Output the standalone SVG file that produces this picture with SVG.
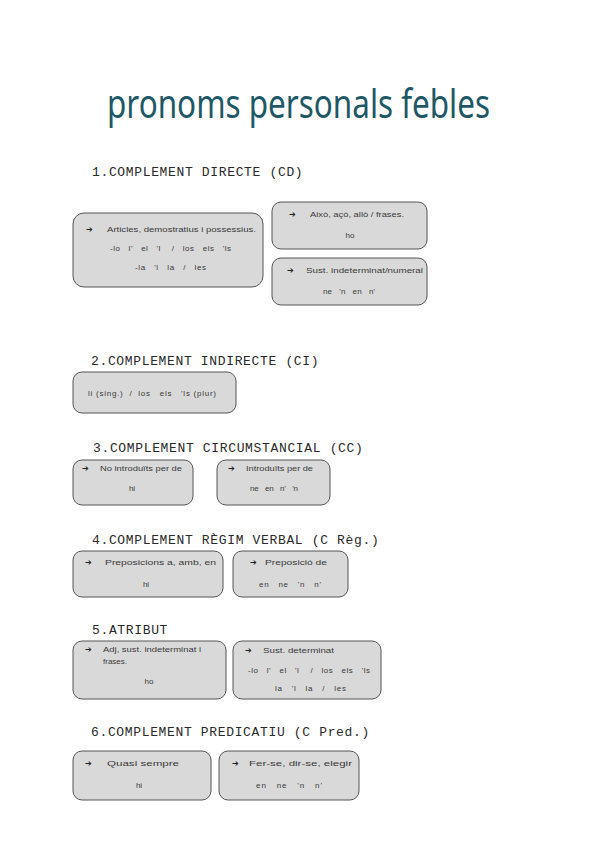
<svg xmlns="http://www.w3.org/2000/svg" width="600" height="848" viewBox="0 0 600 848" xml:space="preserve">
<style>
.title{font-family:"Noto Sans","DejaVu Sans",sans-serif;font-weight:400;font-size:40px;fill:#1e5866}
.h{font-family:"Liberation Mono","DejaVu Sans Mono",monospace;font-size:13px;fill:#2a2a2a;letter-spacing:0.65px}
.box{fill:#d9d9d9;stroke:#555;stroke-width:1}
.t{font-family:"Liberation Sans","Noto Sans",sans-serif;font-size:8px;fill:#3a3a3a;white-space:pre}
.c{text-anchor:middle}
.a{font-family:"DejaVu Sans",sans-serif;font-size:8px;fill:#222}
</style>
<rect width="600" height="848" fill="#fff"/>
<text class="title" x="107" y="118" textLength="383" lengthAdjust="spacingAndGlyphs">pronoms personals febles</text>

<text class="h" x="92" y="176">1.COMPLEMENT DIRECTE (CD)</text>
<text class="h" x="91" y="365">2.COMPLEMENT INDIRECTE (CI)</text>
<text class="h" x="93" y="452">3.COMPLEMENT CIRCUMSTANCIAL (CC)</text>
<text class="h" x="92" y="544">4.COMPLEMENT RÈGIM VERBAL (C Règ.)</text>
<text class="h" x="92" y="634">5.ATRIBUT</text>
<text class="h" x="91" y="736">6.COMPLEMENT PREDICATIU (C Pred.)</text>

<g id="cd1">
<rect class="box" x="73" y="213" width="190" height="74" rx="11"/>
<text class="a" x="86" y="232">➔</text>
<text class="t" x="107" y="232" textLength="149" lengthAdjust="spacingAndGlyphs">Articles, demostratius i possessius.</text>
<text class="t" x="110" y="251" textLength="121" lengthAdjust="spacing">-lo   l'   el   'l    /   los   els   'ls</text>
<text class="t" x="135" y="270" textLength="71" lengthAdjust="spacing">-la   'l   la   /   les</text>
</g>
<g id="cd2">
<rect class="box" x="272" y="202" width="155" height="47" rx="9"/>
<text class="a" x="289" y="217">➔</text>
<text class="t" x="310" y="217" textLength="94" lengthAdjust="spacingAndGlyphs">Això, açò, allò / frases.</text>
<text class="t c" x="350" y="238">ho</text>
</g>
<g id="cd3">
<rect class="box" x="272" y="258" width="155" height="47" rx="9"/>
<text class="a" x="287" y="273">➔</text>
<text class="t" x="323" y="294" textLength="52" lengthAdjust="spacing">ne   'n   en   n'</text>
<text class="t" x="306" y="273" textLength="117" lengthAdjust="spacingAndGlyphs">Sust. indeterminat/numeral</text>
</g>

<g id="ci1">
<rect class="box" x="73" y="372" width="163" height="41" rx="9"/>
<text class="t" x="88" y="396" textLength="128" lengthAdjust="spacing">li (sing.)  /  los   els   'ls (plur)</text>
</g>

<g id="cc1">
<rect class="box" x="73" y="460" width="120" height="45" rx="9"/>
<text class="a" x="82" y="471">➔</text>
<text class="t" x="100" y="471" textLength="82" lengthAdjust="spacingAndGlyphs">No introduïts per de</text>
<text class="t c" x="132" y="491">hi</text>
</g>
<g id="cc2">
<rect class="box" x="217" y="460" width="113" height="45" rx="9"/>
<text class="a" x="228" y="471">➔</text>
<text class="t" x="246" y="471" textLength="67" lengthAdjust="spacingAndGlyphs">Introduïts per de</text>
<text class="t" x="250" y="491" textLength="48" lengthAdjust="spacing">ne   en   n'   'n</text>
</g>

<g id="cr1">
<rect class="box" x="73" y="551" width="150" height="46" rx="9"/>
<text class="a" x="85" y="565">➔</text>
<text class="t" x="105" y="565" textLength="111" lengthAdjust="spacingAndGlyphs">Preposicions a, amb, en</text>
<text class="t c" x="146" y="587">hi</text>
</g>
<g id="cr2">
<rect class="box" x="233" y="551" width="115" height="46" rx="9"/>
<text class="a" x="250" y="565">➔</text>
<text class="t" x="265" y="565" textLength="62" lengthAdjust="spacingAndGlyphs">Preposició de</text>
<text class="t" x="259" y="587" textLength="62" lengthAdjust="spacing">en   ne   'n   n'</text>
</g>

<g id="at1">
<rect class="box" x="73" y="641" width="153" height="58" rx="9"/>
<text class="a" x="85" y="652">➔</text>
<text class="t" x="103" y="652" textLength="98" lengthAdjust="spacingAndGlyphs">Adj, sust. indeterminat i</text>
<text class="t" x="103" y="664">frases.</text>
<text class="t c" x="149" y="684">ho</text>
</g>
<g id="at2">
<rect class="box" x="233" y="641" width="148" height="58" rx="9"/>
<text class="a" x="245" y="653">➔</text>
<text class="t" x="263" y="653" textLength="71" lengthAdjust="spacingAndGlyphs">Sust. determinat</text>
<text class="t" x="248" y="673" textLength="122" lengthAdjust="spacing">-lo   l'   el   'l    /   los   els   'ls</text>
<text class="t" x="275" y="691" textLength="71" lengthAdjust="spacing">la   'l   la   /   les</text>
</g>

<g id="pr1">
<rect class="box" x="73" y="751" width="138" height="49" rx="9"/>
<text class="a" x="85" y="766">➔</text>
<text class="t" x="107" y="766" textLength="72" lengthAdjust="spacingAndGlyphs">Quasi sempre</text>
<text class="t c" x="139" y="788">hi</text>
</g>
<g id="pr2">
<rect class="box" x="219" y="751" width="140" height="49" rx="9"/>
<text class="a" x="232" y="766">➔</text>
<text class="t" x="249" y="766" textLength="103" lengthAdjust="spacingAndGlyphs">Fer-se, dir-se, elegir</text>
<text class="t" x="256" y="788" textLength="66" lengthAdjust="spacing">en   ne   'n   n'</text>
</g>
<g id="connectors"></g>
</svg>
